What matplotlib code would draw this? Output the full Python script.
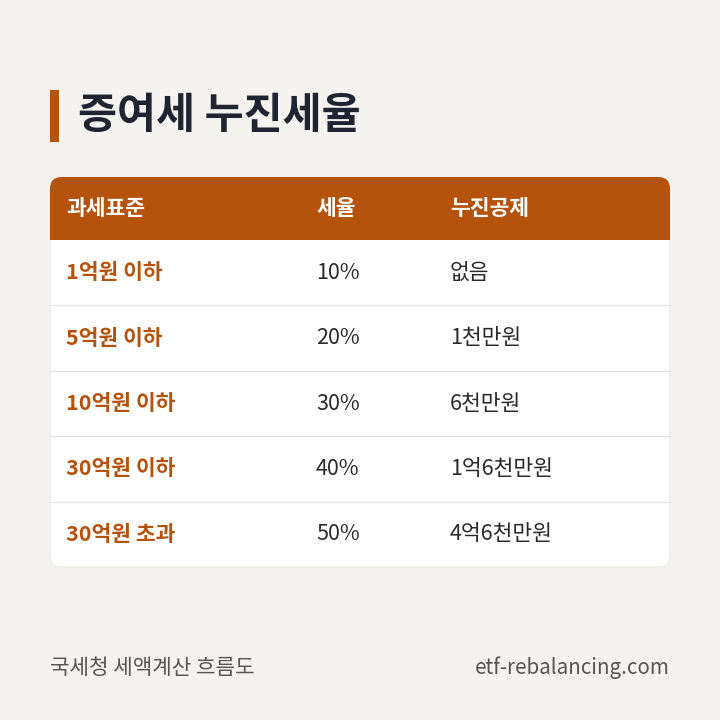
import matplotlib
matplotlib.use('Agg')
import matplotlib.pyplot as plt
from matplotlib.patches import FancyBboxPatch, Rectangle

plt.rcParams['font.family'] = ['Noto Sans CJK KR', 'DejaVu Sans']

title = '증여세 누진세율'
headers = ['과세표준', '세율', '누진공제']
brackets = ['1억원 이하', '5억원 이하', '10억원 이하', '30억원 이하', '30억원 초과']
rates = ['10%', '20%', '30%', '40%', '50%']
deductions = ['없음', '1천만원', '6천만원', '1억6천만원', '4억6천만원']
source = '국세청 세액계산 흐름도'
site = 'etf-rebalancing.com'

BG = '#f5f3ef'
ACCENT = '#b5520c'
DARK = '#1f2430'

fig = plt.figure(figsize=(7.2, 7.2), dpi=100)
fig.patch.set_facecolor(BG)
ax = fig.add_axes([0, 0, 1, 1])
ax.set_xlim(0, 720)
ax.set_ylim(720, 0)
ax.axis('off')

# title
ax.add_patch(Rectangle((50, 90), 9, 52, color=ACCENT, lw=0))
ax.text(78, 116, title, fontsize=30.5, fontweight='bold', color=DARK, va='center', ha='left')

# table body
left, right, top, head_h, row_h = 50, 670, 177, 63, 65.4
bottom = top + head_h + row_h * len(brackets)
ax.add_patch(FancyBboxPatch((left, top), right - left, bottom - top,
                            boxstyle='round,pad=0,rounding_size=12',
                            fc='white', ec='#ebe8e3', lw=0.8))
ax.add_patch(FancyBboxPatch((left, top), right - left, head_h,
                            boxstyle='round,pad=0,rounding_size=12', fc=ACCENT, lw=0))
ax.add_patch(Rectangle((left, top + head_h - 14), right - left, 14, fc=ACCENT, lw=0))

cols = [66, 316, 450]
fs = 15.5
for x, h in zip(cols, headers):
    ax.text(x, top + head_h / 2, h, fontsize=fs, fontweight='bold', color='white', va='center')

for i, (b, r, d) in enumerate(zip(brackets, rates, deductions)):
    y0 = top + head_h + i * row_h
    yc = y0 + row_h / 2
    if i > 0:
        ax.plot([left, right], [y0, y0], color='#e8e6e2', lw=0.9)
    ax.text(cols[0], yc, b, fontsize=fs, fontweight='bold', color=ACCENT, va='center')
    ax.text(cols[1], yc, r, fontsize=fs, color='#2a2a2a', va='center')
    ax.text(cols[2], yc, d, fontsize=fs, color='#2a2a2a', va='center')

# footer
ax.text(50, 668, source, fontsize=15.3, color='#555555', va='center', ha='left')
ax.text(670, 668, site, fontsize=14.8, color='#555555', va='center', ha='right')

fig.savefig('out.png', dpi=100, facecolor=BG)
